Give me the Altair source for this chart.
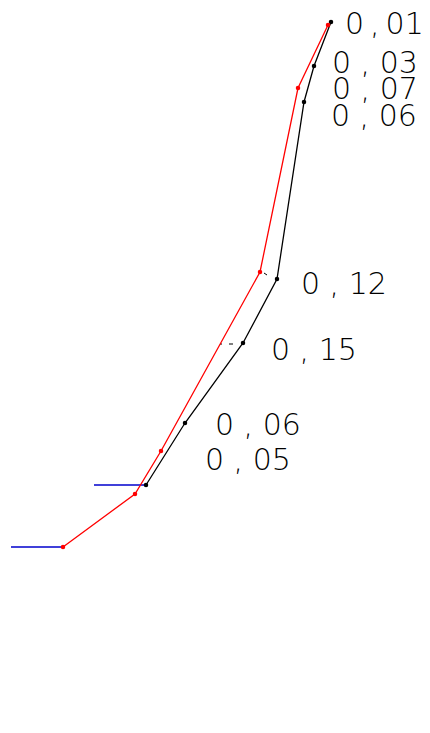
import altair as alt
import pandas as pd

# drawing coordinates (x to the right, y downward), in drawing units
black_x = [138, 177, 235, 269, 296, 306, 323]
black_y = [477, 415, 335, 271, 94, 58, 14]
red_x = [55, 127, 153, 252, 290, 320]
red_y = [539, 486, 443, 264, 80, 17]

blue_x1 = [86, 3]
blue_x2 = [138, 55]
blue_y = [477, 539]

tick_x1 = [256, 212, 221]
tick_x2 = [259, 214, 225]
tick_y1 = [265, 336, 336]
tick_y2 = [267, 336, 336]

labels = ["0\u2009,\u200901", "0 , 03", "0 , 07", "0 , 06", "0 , 12", "0 , 15", "0 , 06", "0 , 05"]
label_x = [337, 324, 324, 323, 293, 263, 207, 197]
label_y = [26, 65, 91, 118, 286, 352, 427, 462]

W, H = 414, 700
xs = alt.Scale(domain=[0, W], nice=False, zero=False)
ys = alt.Scale(domain=[0, H], nice=False, zero=False, reverse=True)
X = lambda f: alt.X(f, type="quantitative", scale=xs, axis=None)
Y = lambda f: alt.Y(f, type="quantitative", scale=ys, axis=None)

black = pd.DataFrame({"x": black_x, "y": black_y, "o": range(len(black_x))})
red = pd.DataFrame({"x": red_x, "y": red_y, "o": range(len(red_x))})
blue = pd.DataFrame({"x": blue_x1, "x2": blue_x2, "y": blue_y})
ticks = pd.DataFrame({"x": tick_x1, "x2": tick_x2, "y": tick_y1, "y2": tick_y2})
lab = pd.DataFrame({"t": labels, "x": label_x, "y": label_y})

blue_l = alt.Chart(blue).mark_rule(color="#0000cc", strokeWidth=1.5).encode(
    x=X("x"), x2="x2", y=Y("y"))
tick_l = alt.Chart(ticks).mark_rule(color="#000000", strokeWidth=1).encode(
    x=X("x"), x2="x2", y=Y("y"), y2="y2")
black_l = alt.Chart(black).mark_line(color="#000000", strokeWidth=1.3).encode(
    x=X("x"), y=Y("y"), order="o:Q")
black_p = alt.Chart(black).mark_circle(color="#000000", size=20, opacity=1).encode(
    x=X("x"), y=Y("y"))
red_l = alt.Chart(red).mark_line(color="#ff0000", strokeWidth=1.3).encode(
    x=X("x"), y=Y("y"), order="o:Q")
red_p = alt.Chart(red).mark_circle(color="#ff0000", size=20, opacity=1).encode(
    x=X("x"), y=Y("y"))
text = alt.Chart(lab).mark_text(
    align="left", baseline="alphabetic", font="DejaVu Sans", fontSize=30,
    fontWeight=200, color="#000000").encode(x=X("x"), y=Y("y"), text="t:N")

chart = alt.layer(blue_l, tick_l, black_l, black_p, red_l, red_p, text).properties(
    width=W, height=H, padding=0, autosize=alt.AutoSizeParams(type="none")
).configure_view(stroke=None)

chart.save("out.html", embed_options={"renderer": "svg", "actions": False})
